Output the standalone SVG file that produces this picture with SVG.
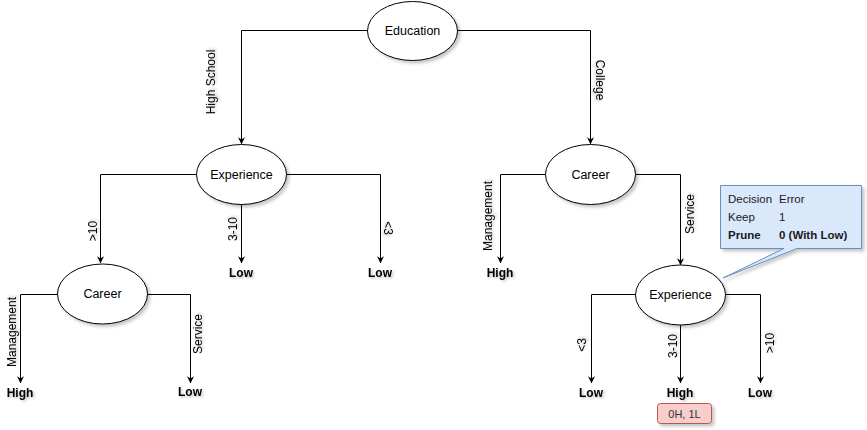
<svg xmlns="http://www.w3.org/2000/svg" width="867" height="430" viewBox="0 0 867 430">
  <defs>
    <filter id="sh" x="-20%" y="-20%" width="150%" height="150%">
      <feDropShadow dx="2.5" dy="2.5" stdDeviation="1.5" flood-color="#000" flood-opacity="0.22"/>
    </filter>
    <filter id="tsh" x="-20%" y="-40%" width="150%" height="190%">
      <feDropShadow dx="1.5" dy="1.5" stdDeviation="1" flood-color="#000" flood-opacity="0.25"/>
    </filter>
    <marker id="arr" viewBox="0 0 10 10" refX="9.5" refY="5" markerWidth="7" markerHeight="7" markerUnits="userSpaceOnUse" orient="auto">
      <path d="M0,0 L10,5 L0,10 L3,5 Z" fill="#000"/>
    </marker>
  </defs>
  <style>
    .node ellipse { fill: #fff; stroke: #000; stroke-width: 1; filter: url(#sh); }
    .nt { font-family: "Liberation Sans", Arial, sans-serif; font-size: 12.5px; fill: #000; text-anchor: middle; dominant-baseline: central; }
    .leaf { font-family: "Liberation Sans", Arial, sans-serif; font-size: 12px; font-weight: bold; fill: #000; text-anchor: middle; dominant-baseline: central; filter: url(#tsh); }
    .el { font-family: "Liberation Sans", Arial, sans-serif; font-size: 12px; fill: #000; text-anchor: middle; dominant-baseline: central; filter: url(#tsh); }
    .edges path { fill: none; stroke: #000; stroke-width: 1; marker-end: url(#arr); }
    .ct { font-family: "Liberation Sans", Arial, sans-serif; font-size: 11.5px; fill: #1a1a1a; dominant-baseline: central; }
  </style>

  <g id="edges" class="edges">
    <path d="M367.5,30.5 H241.5 V144"/>
    <path d="M457.5,30.5 H590.5 V144"/>
    <path d="M196.5,174.5 H100.5 V263"/>
    <path d="M241.5,204 V263"/>
    <path d="M286.5,174.5 H380.5 V263"/>
    <path d="M57.5,294.5 H20.5 V383"/>
    <path d="M147.5,294.5 H190.5 V383"/>
    <path d="M545.5,174.5 H500.5 V263"/>
    <path d="M635.5,174.5 H680.5 V265"/>
    <path d="M635.5,294.5 H591.5 V383"/>
    <path d="M680.5,325 V383"/>
    <path d="M725.5,294.5 H760.5 V383"/>
  </g>

  <g id="edge-labels">
    <text class="el" transform="translate(211,82) rotate(-90)">High School</text>
    <text class="el" transform="translate(600,80) rotate(90)">College</text>
    <text class="el" transform="translate(93,231) rotate(-90)">&gt;10</text>
    <text class="el" transform="translate(233,229) rotate(-90)">3-10</text>
    <text class="el" transform="translate(388,228) rotate(90)">&lt;3</text>
    <text class="el" transform="translate(12,332) rotate(-90)">Management</text>
    <text class="el" transform="translate(198,334) rotate(-90)">Service</text>
    <text class="el" transform="translate(488,216) rotate(-90)">Management</text>
    <text class="el" transform="translate(690,214) rotate(-90)">Service</text>
    <text class="el" transform="translate(582,345) rotate(-90)">&lt;3</text>
    <text class="el" transform="translate(673,346) rotate(-90)">3-10</text>
    <text class="el" transform="translate(770,343) rotate(-90)">&gt;10</text>
  </g>

  <g id="education" class="node">
    <ellipse cx="412.5" cy="31" rx="45" ry="29.5"/>
    <text class="nt" x="412.5" y="31">Education</text>
  </g>
  <g id="experience-left" class="node">
    <ellipse cx="241.5" cy="174.5" rx="45" ry="30"/>
    <text class="nt" x="241.5" y="174.5">Experience</text>
  </g>
  <g id="career-right" class="node">
    <ellipse cx="590.5" cy="174.5" rx="45" ry="30"/>
    <text class="nt" x="590.5" y="174.5">Career</text>
  </g>
  <g id="career-left" class="node">
    <ellipse cx="102.5" cy="294" rx="45" ry="30"/>
    <text class="nt" x="102.5" y="294">Career</text>
  </g>
  <g id="experience-right" class="node">
    <ellipse cx="680.5" cy="295" rx="45" ry="30"/>
    <text class="nt" x="680.5" y="295">Experience</text>
  </g>

  <g id="leaf-low-1"><text class="leaf" x="241" y="273">Low</text></g>
  <g id="leaf-low-2"><text class="leaf" x="380" y="273">Low</text></g>
  <g id="leaf-high-1"><text class="leaf" x="500" y="273">High</text></g>
  <g id="leaf-high-2"><text class="leaf" x="20" y="393">High</text></g>
  <g id="leaf-low-3"><text class="leaf" x="190" y="392">Low</text></g>
  <g id="leaf-low-4"><text class="leaf" x="591" y="393">Low</text></g>
  <g id="leaf-high-3"><text class="leaf" x="680" y="393">High</text></g>
  <g id="leaf-low-5"><text class="leaf" x="760" y="393">Low</text></g>

  <g id="count-label">
    <rect x="657.5" y="403.5" width="54" height="20" rx="3" fill="#f8cecc" stroke="#b85450" filter="url(#sh)"/>
    <text x="684.5" y="413.5" font-family="'Liberation Sans', Arial, sans-serif" font-size="11px" fill="#333" text-anchor="middle" dominant-baseline="central">0H, 1L</text>
  </g>

  <g id="callout">
    <path d="M720.5,185.5 H861.5 V248.5 H797 L723,278 L784,248.5 H720.5 Z" fill="#dae8fc" stroke="#6c8ebf" stroke-width="1" filter="url(#sh)"/>
    <text class="ct" x="728" y="199">Decision</text>
    <text class="ct" x="779" y="199">Error</text>
    <text class="ct" x="728" y="217">Keep</text>
    <text class="ct" x="779" y="217" fill="#602060">1</text>
    <text class="ct" x="728" y="235" font-weight="bold">Prune</text>
    <text class="ct" x="779" y="235" font-weight="bold">0 (With Low)</text>
  </g>
</svg>
